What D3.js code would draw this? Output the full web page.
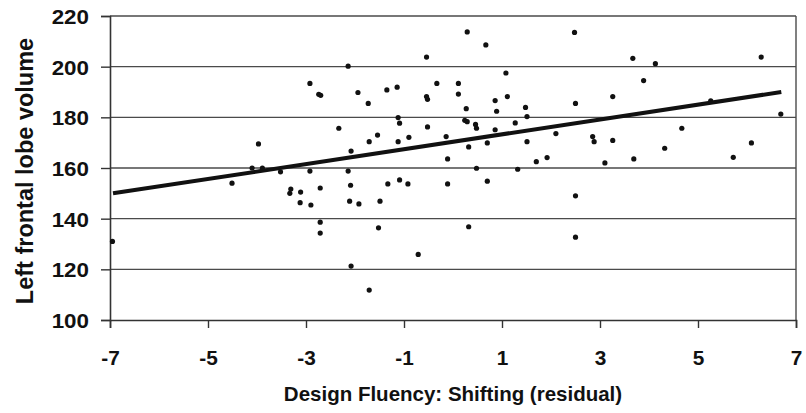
<!DOCTYPE html>
<html>
<head>
<meta charset="utf-8">
<script src="https://cdn.jsdelivr.net/npm/d3@7"></script>
<style>
  body { margin: 0; background: #fff; }
  text { font-family: "Liberation Sans", Arial, sans-serif; font-weight: bold; fill: #111; }
</style>
</head>
<body>
<svg id="chart" width="806" height="413"></svg>
<script>
// Design fluency shifting residual (x) vs left frontal lobe volume (y)
var fluency = [-6.95, -4.51, -3.97, -4.10, -3.89, -3.52, -3.31, -3.33, -3.11, -3.12,
  -2.90, -2.92, -2.92, -2.74, -2.70, -2.71, -2.71, -2.71, -2.33, -2.14,
  -2.08, -2.14, -2.09, -2.11, -2.08, -1.94, -1.92, -1.73, -1.71, -1.71,
  -1.54, -1.49, -1.52, -1.35, -1.33, -1.14, -1.12, -1.09, -1.12, -1.09,
  -0.90, -0.92, -0.71, -0.54, -0.54, -0.52, -0.52, -0.33, -0.14, -0.11,
  -0.11, 0.11, 0.11, 0.27, 0.24, 0.29, 0.29, 0.32, 0.32, 0.46,
  0.48, 0.48, 0.67, 0.70, 0.70, 0.86, 0.89, 0.86, 1.08, 1.11,
  1.27, 1.32, 1.48, 1.51, 1.51, 1.70, 1.92, 2.10, 2.48, 2.50,
  2.50, 2.50, 2.85, 2.88, 3.10, 3.26, 3.26, 3.67, 3.69, 3.89,
  4.13, 4.32, 4.67, 5.26, 5.72, 6.09, 6.29, 6.69];
var volume = [131, 154, 169.5, 160, 160, 158.5, 151.7, 150, 150.5, 146.3,
  145.4, 158.8, 193.4, 189.1, 188.7, 152.1, 138.6, 134.3, 175.7, 200.2,
  166.7, 158.8, 153.2, 146.9, 121.3, 189.8, 145.8, 185.5, 170.4, 111.8,
  173, 146.9, 136.4, 190.8, 153.7, 191.9, 179.9, 177.7, 170.4, 155.3,
  172.1, 153.7, 125.9, 203.8, 188.2, 187.1, 176.2, 193.4, 172.4, 163.6,
  153.7, 193.4, 189.2, 183.4, 178.8, 178.3, 213.7, 168.3, 136.8, 177.2,
  175.7, 159.9, 208.6, 169.9, 154.8, 186.6, 182.4, 175.1, 197.5, 188.2,
  177.8, 159.5, 183.9, 180.3, 170.4, 162.5, 164.1, 173.6, 213.5, 185.5,
  149, 132.7, 172.4, 170.4, 162, 188.2, 170.9, 203.3, 163.6, 194.5,
  201.2, 167.8, 175.7, 186.5, 164.2, 169.9, 203.8, 181.3];

// fitted regression line endpoints
var fitX = [-7, 6.7];
var fitY = [150, 190];

var xTicks = [-7, -5, -3, -1, 1, 3, 5, 7];
var yTicks = [100, 120, 140, 160, 180, 200, 220];

var svg = d3.select('#chart');
var width = 806, height = 413;
var margin = { top: 16, right: 10, bottom: 93, left: 110 };
var stretch = 1.12; // y tick labels look a bit wide in the original

var x = d3.scaleLinear().domain([-7, 7]).range([margin.left, width - margin.right]);
var y = d3.scaleLinear().domain([100, 220]).range([height - margin.bottom, margin.top]);

// horizontal gridlines
svg.append('g')
  .selectAll('line')
  .data(yTicks.slice(1))
  .enter()
  .append('line')
  .attr('x1', x(-7))
  .attr('x2', x(7))
  .attr('y1', function(d) { return y(d); })
  .attr('y2', function(d) { return y(d); })
  .attr('stroke', '#4a4a4a')
  .attr('stroke-width', 1.4);

// right border
svg.append('line')
  .attr('x1', x(7)).attr('x2', x(7))
  .attr('y1', y(220)).attr('y2', y(100))
  .attr('stroke', '#4a4a4a')
  .attr('stroke-width', 1.4);

// Axes
var xAxis = svg.append('g')
  .attr('transform', 'translate(0,' + y(100) + ')')
  .call(d3.axisBottom(x).tickValues(xTicks).tickSize(8).tickPadding(23).tickFormat(d3.format('d')));

var yAxis = svg.append('g')
  .attr('transform', 'translate(' + x(-7) + ',0)')
  .call(d3.axisLeft(y).tickValues(yTicks).tickSize(9).tickPadding(12));

[xAxis, yAxis].forEach(function(g) {
  g.select('.domain').attr('stroke', '#333').attr('stroke-width', 1.6);
  g.selectAll('.tick line').attr('stroke', '#333').attr('stroke-width', 1.4);
  g.selectAll('.tick text')
    .attr('fill', '#111')
    .style('font-family', '"Liberation Sans", Arial, sans-serif')
    .style('font-weight', 'bold')
    .style('font-size', '20px');
});
xAxis.selectAll('.tick text')
  .text(function(d) { return d < 0 ? '-' + Math.abs(d) : d; })
  .attr('transform', 'scale(1.04,1)');
yAxis.selectAll('.tick text')
  .attr('x', -21 / stretch)
  .attr('dy', '0.38em')
  .attr('transform', 'scale(' + stretch + ',1)');

// points
svg.append('g')
  .selectAll('circle')
  .data(fluency)
  .enter()
  .append('circle')
  .attr('cx', function(d) { return x(d); })
  .attr('cy', function(d, i) { return y(volume[i]); })
  .attr('r', 2.6)
  .attr('fill', '#111');

// regression line
svg.append('line')
  .attr('x1', x(fitX[0]) + 3).attr('y1', y(fitY[0]))
  .attr('x2', x(fitX[1])).attr('y2', y(fitY[1]))
  .attr('stroke', '#111')
  .attr('stroke-width', 4);

// labels
svg.append('text')
  .attr('x', (x(-7) + x(7)) / 2)
  .attr('y', 401)
  .attr('text-anchor', 'middle')
  .style('font-size', '20.5px')
  .text('Design Fluency: Shifting (residual)');

svg.append('text')
  .attr('transform', 'translate(33,171) rotate(-90)')
  .attr('text-anchor', 'middle')
  .style('font-size', '23.5px')
  .text('Left frontal lobe volume');
</script>
</body>
</html>
